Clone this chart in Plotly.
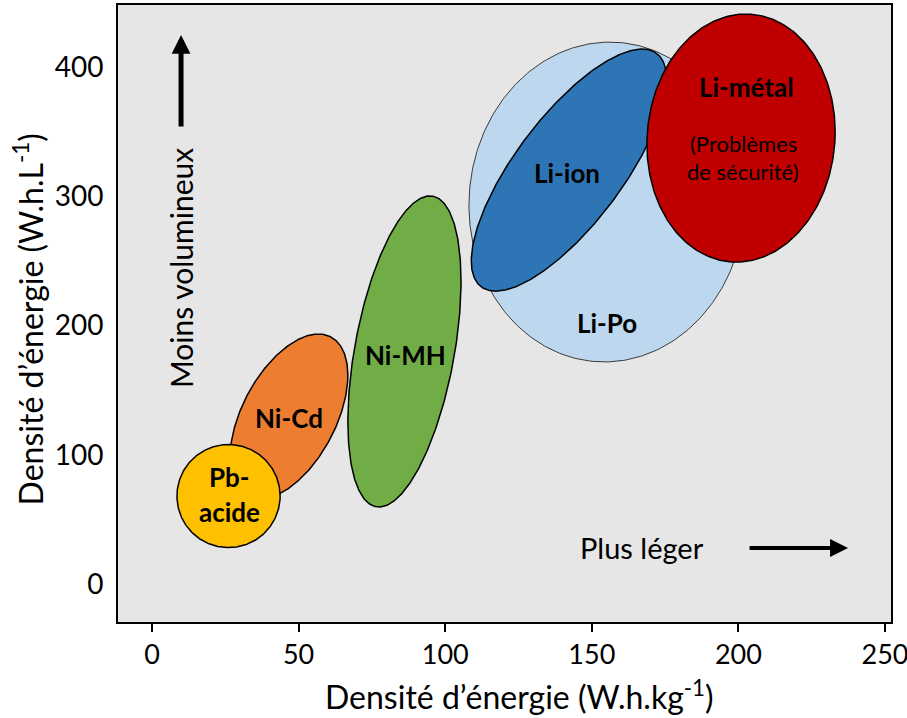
import numpy as np
import plotly.graph_objects as go

# ---- data: energy-density regions of battery technologies ----
techs = ["Li-Po", "Li-ion", "Li-métal", "Ni-MH", "Ni-Cd", "Pb-acide"]
# centre of each region
center_wh_kg = [155.2, 142.2, 200.9, 86.1, 46.7, 26.1]   # W.h/kg
center_wh_l = [295.7, 320.4, 345.2, 180.0, 129.6, 68.1]  # W.h/L
# half spans of each region
half_span_wh_kg = [47.1, 33.3, 32.1, 19.3, 20.1, 17.6]
half_span_wh_l = [123.8, 93.7, 96.0, 120.4, 63.9, 39.9]
# correlation between the two densities within each region (ellipse tilt)
tilt = [0.02, 0.75, 0.05, 0.45, 0.50, 0.0]

x_ticks = [0, 50, 100, 150, 200, 250]
y_ticks = [0, 100, 200, 300, 400]

# ---- styles ----
fill_colors = ["#BDD7EE", "#2E75B6", "#C00000", "#70AD47", "#ED7D31", "#FFC000"]
line_colors = ["#3a3a3a", "black", "black", "black", "black", "black"]
line_widths = [1, 1.5, 1.5, 1.5, 1.5, 1.5]
FONT = "Lato"

fig = go.Figure()
t = np.linspace(0, 2 * np.pi, 361)
for i, name in enumerate(techs):
    cx, cy = center_wh_kg[i], center_wh_l[i]
    hx, hy, r = half_span_wh_kg[i], half_span_wh_l[i], tilt[i]
    xs = cx + hx * np.cos(t)
    ys = cy + hy * (r * np.cos(t) + np.sqrt(1 - r * r) * np.sin(t))
    fig.add_trace(go.Scatter(
        x=xs, y=ys, mode="lines", fill="toself",
        fillcolor=fill_colors[i],
        line=dict(color=line_colors[i], width=line_widths[i]),
        name=name, hoverinfo="name", showlegend=False))

annotations = []


def label(text, x, y, size=26, bold=True, angle=0):
    annotations.append(dict(
        x=x, y=y, xref="x", yref="y", text=f"<b>{text}</b>" if bold else text,
        showarrow=False, textangle=angle, xanchor="center", yanchor="middle",
        font=dict(family=FONT, size=size, color="black")))


label("Li-Po", 155.2, 202.0)
label("Li-ion", 141.5, 318.1)
label("Li-métal", 202.9, 384.7)
label("(Problèmes", 201.6, 341.3, size=22, bold=False)
label("de sécurité)", 201.6, 319.7, size=22, bold=False)
label("Ni-MH", 86.3, 177.2)
label("Ni-Cd", 46.7, 128.5)
label("Pb-", 26.3, 82.8)
label("acide", 26.3, 55.7)
label("Moins volumineux", 9.9, 244.6, size=30, bold=False, angle=-90)
label("Plus léger", 167.1, 27.9, size=29, bold=False)

# direction arrows
annotations.append(dict(x=9.9, y=424.9, ax=9.9, ay=352.9, xref="x", yref="y",
                        axref="x", ayref="y", text="", showarrow=True,
                        arrowhead=2, arrowsize=0.75, arrowwidth=5,
                        arrowcolor="black", standoff=0))
annotations.append(dict(x=237.4, y=27.9, ax=203.3, ay=27.9, xref="x", yref="y",
                        axref="x", ayref="y", text="", showarrow=True,
                        arrowhead=2, arrowsize=0.9, arrowwidth=4,
                        arrowcolor="black", standoff=0))

# axis titles
annotations.append(dict(x=0.519, y=-0.118, xref="paper", yref="paper",
                        text="Densité d’énergie (W.h.kg<sup>-1</sup>)",
                        showarrow=False, xanchor="center", yanchor="middle",
                        font=dict(family=FONT, size=32, color="black")))
annotations.append(dict(x=-0.116, y=0.491, xref="paper", yref="paper",
                        text="Densité d’énergie (W.h.L<sup>-1</sup>)",
                        textangle=-90, showarrow=False, xanchor="center",
                        yanchor="middle",
                        font=dict(family=FONT, size=32, color="black")))

fig.update_layout(
    width=907, height=718, autosize=False,
    margin=dict(l=118, r=16, t=5, b=96, autoexpand=False),
    paper_bgcolor="white", plot_bgcolor="#E6E6E6",
    annotations=annotations,
    xaxis=dict(range=[-11.6, 252.05], tickvals=x_ticks, ticks="outside",
               ticklen=8, tickwidth=2, tickcolor="black", showline=True,
               linecolor="black", linewidth=2, mirror=True, showgrid=False,
               zeroline=False, ticklabeloverflow="allow",
               tickfont=dict(family=FONT, size=27, color="black")),
    yaxis=dict(range=[-29.4, 448.2], tickvals=y_ticks, ticks="",
               showline=True, linecolor="black", linewidth=2, mirror=True,
               showgrid=False, zeroline=False, ticklabelstandoff=7,
               tickfont=dict(family=FONT, size=28, color="black")),
)

fig.write_html(
    "out.html",
    config={"displayModeBar": False},
    post_script="document.body.style.margin='0';document.body.style.overflow='hidden';",
)
